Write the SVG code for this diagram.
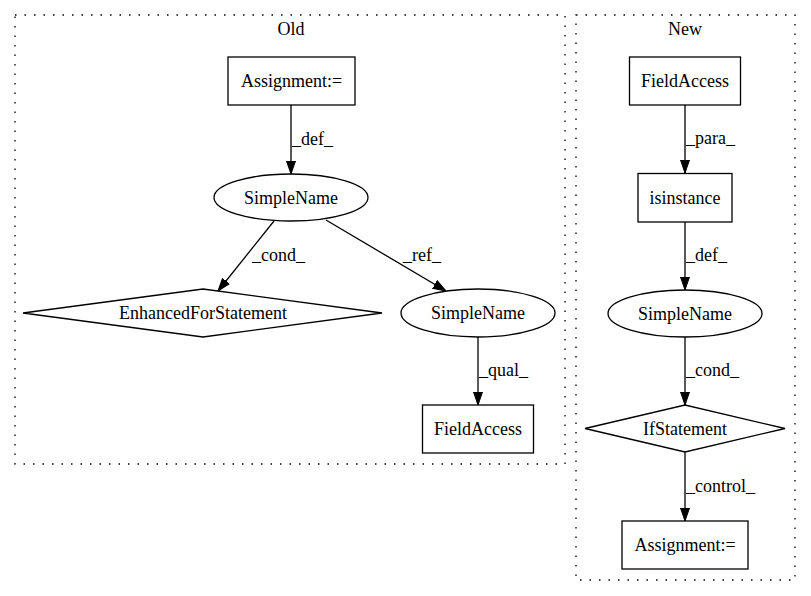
<svg xmlns="http://www.w3.org/2000/svg" width="811" height="596" viewBox="0 0 811 596">
<defs>
<marker id="ah" viewBox="0 0 13 10" refX="13" refY="5" markerWidth="13" markerHeight="10" markerUnits="userSpaceOnUse" orient="auto">
<path d="M0,0.5 L13,5 L0,9.5 z" fill="#000" stroke="#000" stroke-width="1"/>
</marker>
</defs>
<rect width="811" height="596" fill="#fff"/>
<g fill="none" stroke="#000" stroke-width="1.3">
<g id="cluster_old">
<rect stroke-dasharray="1.5,8" x="15" y="15" width="550" height="449"/>
<text x="291" y="35" text-anchor="middle" fill="#000" stroke="none" style="font-family:'Liberation Serif',serif;font-size:18px">Old</text>
</g>
<g id="cluster_new">
<rect stroke-dasharray="1.5,8" x="576" y="15" width="219" height="565"/>
<text x="685" y="35" text-anchor="middle" fill="#000" stroke="none" style="font-family:'Liberation Serif',serif;font-size:18px">New</text>
</g>
<g id="connectors">
<line x1="291" y1="105" x2="291" y2="174" marker-end="url(#ah)"/>
<line x1="274" y1="221" x2="218" y2="291" marker-end="url(#ah)"/>
<line x1="326" y1="220" x2="446" y2="291" marker-end="url(#ah)"/>
<line x1="478" y1="337" x2="478" y2="405" marker-end="url(#ah)"/>
<line x1="685" y1="105" x2="685" y2="173" marker-end="url(#ah)"/>
<line x1="685" y1="222" x2="685" y2="290" marker-end="url(#ah)"/>
<line x1="685" y1="337" x2="685" y2="405" marker-end="url(#ah)"/>
<line x1="685" y1="452" x2="685" y2="521" marker-end="url(#ah)"/>
<text x="292" y="145" fill="#000" stroke="none" style="font-family:'Liberation Serif',serif;font-size:18px">_def_</text>
<text x="252" y="261" fill="#000" stroke="none" style="font-family:'Liberation Serif',serif;font-size:18px">_cond_</text>
<text x="403" y="261" fill="#000" stroke="none" style="font-family:'Liberation Serif',serif;font-size:18px">_ref_</text>
<text x="479" y="376" fill="#000" stroke="none" style="font-family:'Liberation Serif',serif;font-size:18px">_qual_</text>
<text x="686" y="144" fill="#000" stroke="none" style="font-family:'Liberation Serif',serif;font-size:18px">_para_</text>
<text x="686" y="261" fill="#000" stroke="none" style="font-family:'Liberation Serif',serif;font-size:18px">_def_</text>
<text x="686" y="376" fill="#000" stroke="none" style="font-family:'Liberation Serif',serif;font-size:18px">_cond_</text>
<text x="686" y="492" fill="#000" stroke="none" style="font-family:'Liberation Serif',serif;font-size:18px">_control_</text>
</g>
<g id="old_assignment">
<rect x="228" y="57" width="127" height="48"/>
<text x="291.5" y="87" text-anchor="middle" fill="#000" stroke="none" style="font-family:'Liberation Serif',serif;font-size:18px">Assignment:=</text>
</g>
<g id="old_simplename1">
<ellipse cx="291" cy="197.5" rx="77" ry="23.5"/>
<text x="291" y="203.5" text-anchor="middle" fill="#000" stroke="none" style="font-family:'Liberation Serif',serif;font-size:18px">SimpleName</text>
</g>
<g id="old_enhancedfor">
<polygon points="23,313 203,289 382,313 203,337"/>
<text x="203" y="319" text-anchor="middle" fill="#000" stroke="none" style="font-family:'Liberation Serif',serif;font-size:18px">EnhancedForStatement</text>
</g>
<g id="old_simplename2">
<ellipse cx="478" cy="313" rx="77" ry="24"/>
<text x="478" y="319" text-anchor="middle" fill="#000" stroke="none" style="font-family:'Liberation Serif',serif;font-size:18px">SimpleName</text>
</g>
<g id="old_fieldaccess">
<rect x="422.5" y="405" width="111" height="48"/>
<text x="478" y="435" text-anchor="middle" fill="#000" stroke="none" style="font-family:'Liberation Serif',serif;font-size:18px">FieldAccess</text>
</g>
<g id="new_fieldaccess">
<rect x="629.5" y="57" width="111" height="48"/>
<text x="685" y="87" text-anchor="middle" fill="#000" stroke="none" style="font-family:'Liberation Serif',serif;font-size:18px">FieldAccess</text>
</g>
<g id="new_isinstance">
<rect x="638" y="173.5" width="94" height="48.5"/>
<text x="685" y="203.5" text-anchor="middle" fill="#000" stroke="none" style="font-family:'Liberation Serif',serif;font-size:18px">isinstance</text>
</g>
<g id="new_simplename">
<ellipse cx="685" cy="313.5" rx="77" ry="23.5"/>
<text x="685" y="319.5" text-anchor="middle" fill="#000" stroke="none" style="font-family:'Liberation Serif',serif;font-size:18px">SimpleName</text>
</g>
<g id="new_ifstatement">
<polygon points="585,428.5 685,405 785,428.5 685,452"/>
<text x="685" y="434.5" text-anchor="middle" fill="#000" stroke="none" style="font-family:'Liberation Serif',serif;font-size:18px">IfStatement</text>
</g>
<g id="new_assignment">
<rect x="622" y="521" width="126" height="48"/>
<text x="685" y="551" text-anchor="middle" fill="#000" stroke="none" style="font-family:'Liberation Serif',serif;font-size:18px">Assignment:=</text>
</g>
</g>
</svg>
